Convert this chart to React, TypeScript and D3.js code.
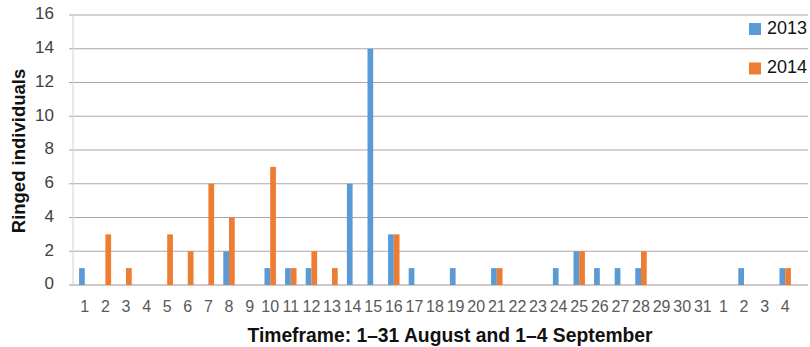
import React from "react";
import * as d3 from "d3";

const categories: string[] = [
  "1","2","3","4","5","6","7","8","9","10","11","12","13","14","15","16","17","18","19","20",
  "21","22","23","24","25","26","27","28","29","30","31","1","2","3","4",
];
const series2013: number[] = [
  1,0,0,0,0,0,0,2,0,1,1,1,0,6,14,3,1,0,1,0,
  1,0,0,1,2,1,1,1,0,0,0,0,1,0,1,
];
const series2014: number[] = [
  0,3,1,0,3,2,6,4,0,7,1,2,1,0,0,3,0,0,0,0,
  1,0,0,0,2,0,0,2,0,0,0,0,0,0,1,
];
const seriesNames: string[] = ["2013", "2014"];
const yTicks: number[] = [0, 2, 4, 6, 8, 10, 12, 14, 16];
const colors: Record<string, string> = { "2013": "#5b9bd5", "2014": "#ed7d31" };

export default function App() {
  const W = 810, H = 347;
  const left = 74.5, right = 795.5, top = 15, bottom = 285;
  const idx = categories.map((_, i) => String(i));
  const x = d3.scaleBand<string>().domain(idx).range([left, right]).paddingInner(0.445).paddingOuter(0.2225);
  const x1 = d3.scaleBand<string>().domain(seriesNames).range([0, x.bandwidth()]);
  const y = d3.scaleLinear().domain([0, 16]).range([bottom, top]);
  const data: Record<string, number[]> = { "2013": series2013, "2014": series2014 };
  const font = "'Liberation Sans', Arial, sans-serif";

  return (
    <svg width={W} height={H} style={{ position: "absolute", left: 0, top: 0, background: "#fff" }}>
      <rect x={0} y={0} width={W} height={H} fill="#fff" />
      {yTicks.map((t) => (
        <g key={t}>
          <line x1={69} x2={808} y1={y(t)} y2={y(t)} stroke={t === 0 ? "#a39494" : "#b3a3a3"} strokeWidth={1.2} />
          <text x={54} y={y(t)} textAnchor="end" dominantBaseline="middle" fontFamily={font} fontSize={17} fill="#404040">{t}</text>
        </g>
      ))}
      <line x1={73} x2={73} y1={top} y2={bottom} stroke="#d8d0d0" strokeWidth={1} />
      {seriesNames.map((s) => (
        <g key={s}>
          {data[s].map((v, i) =>
            v > 0 ? (
              <rect key={i} x={(x(String(i)) as number) + (x1(s) as number)} y={y(v)} width={x1.bandwidth()} height={y(0) - y(v)} fill={colors[s]} />
            ) : null
          )}
        </g>
      ))}
      {categories.map((c, i) => (
        <text key={i} x={(x(String(i)) as number) + x.bandwidth() / 2} y={312} textAnchor="middle" fontFamily={font} fontSize={16} fill="#595959">{c}</text>
      ))}
      <text transform={`translate(25,${(top + bottom) / 2 + 1}) rotate(-90)`} textAnchor="middle" fontFamily={font} fontWeight="bold" fontSize={18.5} fill="#111">Ringed individuals</text>
      <text x={450} y={342} textAnchor="middle" fontFamily={font} fontWeight="bold" fontSize={19.3} fill="#111">Timeframe: 1–31 August and 1–4 September</text>
      {seriesNames.map((s, i) => (
        <g key={s}>
          <rect x={749} y={23 + i * 39.5} width={12} height={12} fill={colors[s]} />
          <text x={767} y={29 + i * 39.5} dominantBaseline="middle" fontFamily={font} fontSize={18} fill="#111">{s}</text>
        </g>
      ))}
    </svg>
  );
}
